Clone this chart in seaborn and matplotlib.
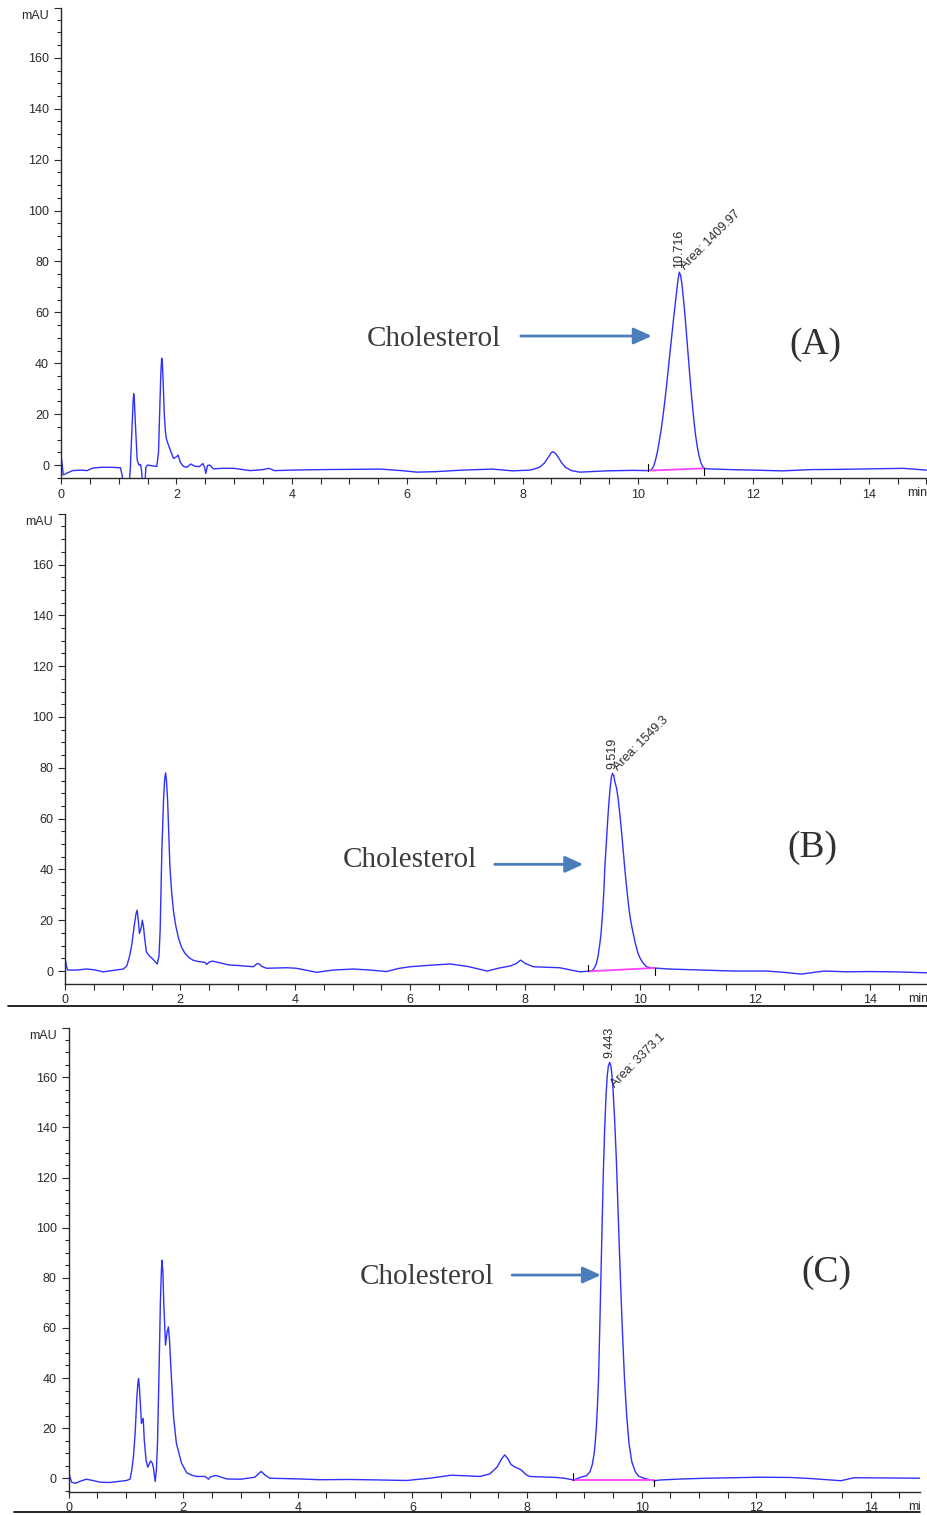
import matplotlib
matplotlib.use("Agg")
import matplotlib.pyplot as plt
import seaborn as sns
from matplotlib.ticker import MultipleLocator
from matplotlib.lines import Line2D
from matplotlib.transforms import Bbox, TransformedBbox

# =============================================
# DATA
# =============================================
a_time = [0.0, 0.02, 0.04, 0.1, 0.2, 0.35, 0.45, 0.55, 0.7, 0.9, 1.03, 1.06, 1.09, 1.17,
          1.2, 1.23, 1.25, 1.26, 1.27, 1.29, 1.32, 1.35, 1.38, 1.4, 1.42, 1.45, 1.47, 1.5,
          1.58, 1.66, 1.69, 1.71, 1.73, 1.745, 1.755, 1.77, 1.79, 1.81, 1.83, 1.86, 1.9,
          1.95, 2.0, 2.03, 2.07, 2.12, 2.18, 2.25, 2.32, 2.4, 2.46, 2.49, 2.51, 2.54, 2.58,
          2.64, 2.8, 3.0, 3.28, 3.5, 3.6, 3.7, 4.0, 4.5, 5.0, 5.53, 5.9, 6.17, 6.5, 6.96,
          7.48, 7.83, 8.12, 8.2, 8.3, 8.38, 8.45, 8.5, 8.53, 8.57, 8.62, 8.68, 8.75, 8.85,
          8.99, 9.45, 9.9, 10.17, 10.22, 10.25, 10.28, 10.31, 10.34, 10.37, 10.4, 10.43,
          10.46, 10.49, 10.52, 10.55, 10.58, 10.61, 10.64, 10.67, 10.69, 10.716, 10.74,
          10.76, 10.79, 10.82, 10.85, 10.88, 10.91, 10.94, 10.97, 11.0, 11.03, 11.06,
          11.09, 11.12, 11.15, 11.2, 11.6, 12.0, 12.5, 13.0, 13.5, 14.0, 14.6, 15.0]
a_mau = [4.3, 0.0, -3.9, -3.2, -2.2, -2.0, -2.2, -1.2, -0.9, -0.9, -1.1, -4.0, -12.0, -12.0,
         -2.0, 14.0, 25.0, 28.0, 26.0, 16.0, 2.0, 0.0, 0.2, -3.0, -10.0, -10.0, -1.0, 0.0,
         -0.3, -0.6, 5.0, 20.0, 36.0, 42.0, 41.0, 33.0, 20.0, 13.0, 10.0, 8.0, 5.5,
         2.6, 3.2, 3.9, 1.0, -0.5, -0.9, 0.4, -0.5, -0.6, 0.6, -1.0, -3.3, -0.2, 0.0,
         -1.5, -1.3, -1.3, -2.2, -1.8, -1.3, -2.2, -2.0, -1.8, -1.7, -1.6, -2.2, -2.8,
         -2.6, -2.0, -1.6, -2.3, -2.0, -1.6, -0.8, 0.8, 3.2, 4.9, 5.2, 4.6, 3.0, 0.8,
         -1.0, -2.2, -2.8, -2.3, -2.1, -2.2, -2.0, -1.4, 0.0, 2.5, 5.5, 9.5, 13.5, 18.5,
         24.0, 30.0, 36.5, 43.0, 49.5, 56.0, 62.0, 68.0, 72.0, 75.8, 74.5, 71.5, 65.0,
         57.5, 49.0, 40.5, 32.0, 24.5, 17.5, 11.5, 7.0, 3.5, 1.0, -0.5, -1.3, -1.5,
         -1.8, -2.0, -2.3, -1.8, -1.7, -1.5, -1.3, -2.0]

b_time = [0.0, 0.02, 0.04, 0.2, 0.37, 0.5, 0.66, 0.85, 1.01, 1.07, 1.12, 1.16, 1.2, 1.23,
          1.25, 1.27, 1.29, 1.32, 1.34, 1.36, 1.38, 1.41, 1.46, 1.51, 1.56, 1.6, 1.63,
          1.65, 1.68, 1.71, 1.73, 1.745, 1.76, 1.78, 1.8, 1.82, 1.85, 1.88, 1.92, 1.97,
          2.02, 2.08, 2.15, 2.22, 2.3, 2.43, 2.46, 2.5, 2.56, 2.7, 2.84, 3.0, 3.27, 3.33,
          3.36, 3.42, 3.5, 3.85, 4.02, 4.2, 4.37, 4.66, 5.01, 5.3, 5.59, 5.79, 6.0, 6.35,
          6.7, 7.0, 7.34, 7.55, 7.74, 7.85, 7.92, 8.0, 8.14, 8.6, 8.95, 9.1, 9.15, 9.18,
          9.21, 9.24, 9.27, 9.3, 9.32, 9.35, 9.37, 9.386, 9.42, 9.44, 9.46, 9.48, 9.5,
          9.519, 9.54, 9.56, 9.59, 9.62, 9.65, 9.68, 9.705, 9.73, 9.76, 9.79, 9.82, 9.85,
          9.88, 9.92, 9.96, 10.0, 10.05, 10.11, 10.18, 10.25, 10.5, 10.77, 11.2, 11.64,
          12.2, 12.5, 12.8, 13.2, 13.6, 13.96, 14.4, 15.0]
b_mau = [4.5, 2.0, 0.4, 0.4, 0.8, 0.5, -0.3, 0.3, 0.8, 2.0, 6.0, 10.9, 18.0, 22.5,
         24.0, 20.0, 14.8, 17.0, 20.0, 17.5, 13.0, 7.6, 6.0, 5.0, 3.8, 2.8, 6.0,
         16.0, 47.6, 68.0, 76.0, 78.0, 75.0, 67.0, 54.0, 41.0, 31.0, 24.0, 18.0, 12.9,
         9.5, 7.0, 5.3, 4.3, 3.8, 3.4, 2.6, 3.5, 3.9, 3.2, 2.4, 2.2, 1.7, 2.8,
         3.0, 1.8, 1.1, 1.3, 1.1, 0.3, -0.5, 0.4, 0.8, 0.4, -0.2, 1.0, 1.7, 2.3,
         2.8, 1.8, 0.0, 1.2, 2.0, 3.0, 4.3, 3.0, 1.7, 1.3, -0.3, -0.1, 0.0, 0.5,
         1.5, 3.0, 6.2, 11.0, 14.8, 24.0, 32.0, 41.0, 54.0, 61.0, 67.3, 72.5, 76.3,
         77.8, 77.0, 74.5, 72.0, 67.3, 61.0, 54.0, 47.5, 41.0, 34.0, 27.5, 22.0, 18.0,
         14.8, 10.5, 7.2, 5.0, 3.2, 1.7, 1.3, 1.2, 0.8, 0.6, 0.3, 0.0,
         0.0, -0.5, -1.2, 0.0, -0.3, -0.2, -0.3, -0.7]

c_time = [0.0, 0.03, 0.05, 0.12, 0.2, 0.31, 0.42, 0.55, 0.72, 0.9, 1.01, 1.07, 1.1, 1.13,
          1.16, 1.19, 1.21, 1.22, 1.235, 1.25, 1.27, 1.3, 1.32, 1.35, 1.38, 1.43, 1.46,
          1.48, 1.51, 1.53, 1.55, 1.58, 1.6, 1.62, 1.63, 1.645, 1.66, 1.69, 1.715, 1.74,
          1.76, 1.78, 1.83, 1.88, 1.97, 2.06, 2.15, 2.23, 2.38, 2.44, 2.47, 2.57, 2.76,
          3.0, 3.25, 3.3, 3.36, 3.43, 3.51, 4.04, 4.39, 4.9, 5.43, 5.9, 6.3, 6.68, 7.0,
          7.18, 7.35, 7.48, 7.55, 7.61, 7.66, 7.72, 7.78, 7.9, 7.98, 8.04, 8.51, 8.65,
          8.81, 8.95, 9.04, 9.1, 9.14, 9.17, 9.19, 9.21, 9.23, 9.25, 9.27, 9.29, 9.31,
          9.33, 9.355, 9.38, 9.4, 9.42, 9.443, 9.465, 9.48, 9.5, 9.53, 9.56, 9.595, 9.63,
          9.665, 9.7, 9.74, 9.78, 9.83, 9.89, 9.95, 10.04, 10.21, 10.33, 10.7, 11.14,
          11.6, 12.07, 12.6, 13.0, 13.48, 13.71, 14.35, 14.86]
c_mau = [2.2, 0.0, -1.6, -2.0, -1.2, -0.4, -0.9, -1.6, -1.7, -1.2, -0.9, -0.4, 3.0, 8.6,
         18.0, 32.5, 38.5, 39.8, 36.0, 30.0, 21.9, 23.9, 15.0, 7.3, 4.4, 6.9, 6.0,
         4.0, -1.3, 3.0, 13.9, 45.8, 70.0, 84.0, 87.0, 82.0, 69.7, 53.1, 58.0, 60.4,
         55.0, 45.8, 24.5, 13.9, 6.0, 2.2, 1.2, 0.7, 0.7, -0.4, 0.5, 1.1, -0.3,
         -0.4, 0.4, 1.5, 2.7, 1.2, 0.0, -0.3, -0.6, -0.5, -0.7, -0.9, 0.0, 1.2, 0.9,
         0.7, 1.7, 4.5, 7.5, 9.3, 8.0, 5.5, 4.6, 3.3, 1.5, 0.7, 0.3, 0.0,
         -0.7, 0.5, 1.0, 2.6, 5.5, 9.5, 14.0, 20.0, 29.0, 40.5, 60.0, 80.0, 100.0,
         120.0, 139.0, 153.0, 160.5, 164.5, 166.0, 164.5, 161.5, 156.0, 143.0, 127.0, 103.0, 80.0,
         59.0, 40.5, 25.0, 14.0, 6.5, 2.6, 0.8, 0.0, -1.0, -0.7, -0.3, 0.0,
         0.2, 0.4, 0.3, -0.2, -1.0, 0.2, 0.1, 0.0]

# integration baselines (start, end)
a_base_time = [10.17, 11.15]
a_base_mau = [-2.2, -1.3]
b_base_time = [9.1, 10.25]
b_base_mau = [-0.1, 1.2]
c_base_time = [8.81, 10.21]
c_base_mau = [-0.7, -0.7]

rt_labels = ["10.716", "9.519", "9.443"]
peak_areas = ["1409.97", "1549.3", "3373.1"]
panel_labels = ["(A)", "(B)", "(C)"]
compound = "Cholesterol"

x_ticks = [0, 2, 4, 6, 8, 10, 12, 14]
y_ticks = [0, 20, 40, 60, 80, 100, 120, 140, 160]

# =============================================
# STYLE
# =============================================
sns.set_style("ticks")
plt.rcParams["font.family"] = ["Liberation Sans", "DejaVu Sans"]

W, H = 927, 1515
fig = plt.figure(figsize=(W / 100, H / 100), dpi=100)

TRACE = "#3030ff"
INK = "#2a2a2a"
ARROW = "#4a7ebb"


def px_axes(left, top, right, bottom):
    return fig.add_axes([left / W, 1 - bottom / H, (right - left) / W, (bottom - top) / H])


# panel geometry in pixels: box, xlim, ylim, text/arrow spots, area label offset
panels = [
    dict(box=(61, 8, 927, 478), xlim=(0, 15.01), ylim=(-5.1, 179.6),
         name=(6.46, 49.5), arrow=(7.97, 10.24, 50.7), tag=(13.08, 47.2),
         area_off=(6, 2), right_clip=927),
    dict(box=(65.3, 514, 927, 983.5), xlim=(0, 14.99), ylim=(-4.9, 179.9),
         name=(5.99, 43.7), arrow=(7.47, 9.01, 42.0), tag=(13.0, 48.4),
         area_off=(6, 2), right_clip=927),
    dict(box=(68.7, 1028, 920, 1491.5), xlim=(0, 14.86), ylim=(-5.3, 179.7),
         name=(6.25, 80.3), arrow=(7.74, 9.29, 81.1), tag=(13.22, 82.1),
         area_off=(5, -26), right_clip=920),
]
traces = [(a_time, a_mau), (b_time, b_mau), (c_time, c_mau)]
baselines = [(a_base_time, a_base_mau), (b_base_time, b_base_mau), (c_base_time, c_base_mau)]


def draw_panel(p, trace, base, rt, area, tag):
    ax = px_axes(*p["box"])
    t, v = trace
    sns.lineplot(x=t, y=v, ax=ax, color=TRACE, lw=1.0, sort=False, estimator=None)
    bt, bv = base
    sns.lineplot(x=bt, y=bv, ax=ax, color="#ff40ff", lw=1.3, sort=False, estimator=None)
    # integration start / end marks
    ax.plot([bt[0], bt[0]], [bv[0], bv[0] + 2.6], color="black", lw=0.8)
    ax.plot([bt[1], bt[1]], [bv[1], bv[1] - 2.6], color="black", lw=0.8)

    ax.set_xlim(*p["xlim"])
    ax.set_ylim(*p["ylim"])
    ax.set_xlabel("")
    ax.set_ylabel("")
    sns.despine(ax=ax)
    for s in ["left", "bottom"]:
        ax.spines[s].set_color(INK)
        ax.spines[s].set_linewidth(1.0)

    ax.set_xticks(x_ticks)
    ax.set_xticklabels([str(x) for x in x_ticks])
    ax.xaxis.set_minor_locator(MultipleLocator(0.5))
    ax.set_yticks(y_ticks + [p["ylim"][1]])
    ax.set_yticklabels([str(y) for y in y_ticks] + [""])
    ax.yaxis.set_minor_locator(MultipleLocator(5))
    ax.tick_params(axis="x", which="both", length=4.2, width=0.8, color=INK,
                   pad=3.5, labelsize=9, labelcolor=INK)
    ax.tick_params(axis="y", which="major", length=4.8, width=0.8, color=INK,
                   pad=3.8, labelsize=9, labelcolor=INK)
    ax.tick_params(axis="y", which="minor", length=2.7, width=0.8, color=INK)

    ax.annotate("mAU", xy=(0, 1), xycoords="axes fraction", xytext=(-12, -8),
                textcoords="offset pixels", ha="right", va="center", fontsize=9, color=INK)
    mn = ax.annotate("min", xy=(14.66, 0), xycoords=("data", "axes fraction"),
                     xytext=(0, -15), textcoords="offset pixels", ha="left", va="center",
                     fontsize=9, color=INK, annotation_clip=False)
    mn.set_clip_box(TransformedBbox(Bbox([[0, 0], [p["right_clip"] / W, 1]]), fig.transFigure))
    mn.set_clip_on(True)

    # peak labels
    rt_x = float(rt)
    apex = max(vv for tt, vv in zip(t, v) if abs(tt - rt_x) < 0.3)
    ax.annotate(rt, xy=(rt_x, apex), xytext=(0, 4), textcoords="offset pixels",
                rotation=90, ha="center", va="bottom", fontsize=9, color=INK,
                annotation_clip=False)
    ax.annotate(f"Area: {area}", xy=(rt_x, apex), xytext=p["area_off"],
                textcoords="offset pixels", rotation=45, rotation_mode="anchor",
                ha="left", va="baseline", fontsize=9, color=INK, annotation_clip=False)

    # compound label, arrow, panel tag
    ax.text(*p["name"], compound, ha="center", va="center", fontsize=21,
            family="Liberation Serif", color="#3c3c3c")
    x0, x1, ya = p["arrow"]
    ax.annotate("", xy=(x1, ya), xytext=(x0, ya),
                arrowprops=dict(arrowstyle="-|>,head_length=1.1,head_width=0.5",
                                color=ARROW, lw=2.0, shrinkA=0, shrinkB=0))
    ax.text(*p["tag"], tag, ha="center", va="center", fontsize=27,
            family="Liberation Serif", color="#303030")
    return ax


for p, tr, bs, rt, ar, tg in zip(panels, traces, baselines, rt_labels, peak_areas, panel_labels):
    draw_panel(p, tr, bs, rt, ar, tg)

# separator rules under panels B and C
fig.add_artist(Line2D([8 / W, 1.0], [1 - 1005.7 / H] * 2, transform=fig.transFigure,
                      color="black", lw=1.2))
fig.add_artist(Line2D([14 / W, 920 / W], [1 - 1512 / H] * 2, transform=fig.transFigure,
                      color="black", lw=1.2))

fig.savefig("out.png", dpi=100, facecolor="white")
plt.close(fig)
